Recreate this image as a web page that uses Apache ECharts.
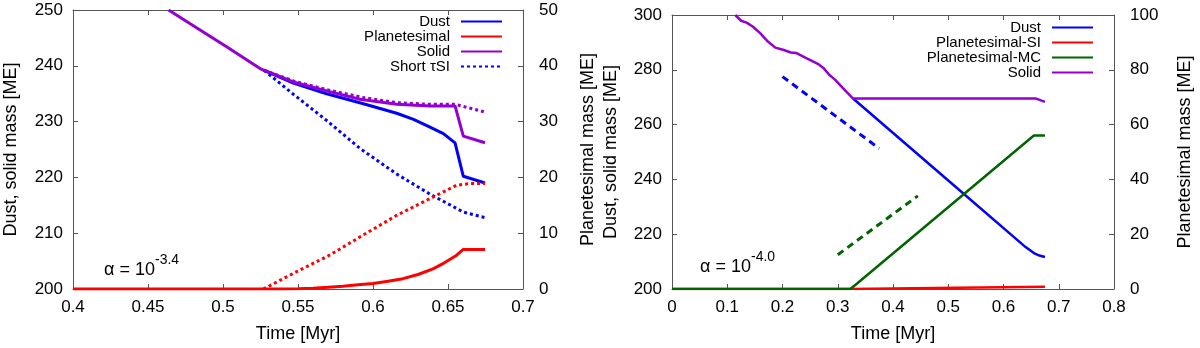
<!DOCTYPE html>
<html>
<head>
<meta charset="utf-8">
<script src="https://cdn.jsdelivr.net/npm/echarts@6/dist/echarts.min.js"></script>
<style>
  html, body { margin: 0; padding: 0; background: #fff; }
  #chart { width: 1200px; height: 348px; }
</style>
</head>
<body>
<div id="chart"></div>
<script>
// left panel, alpha = 10^-3.4  (x: Myr, y: ME)
let leftDust = [[0.5274, 239.2], [0.5469, 236.9], [0.5691, 235.0], [0.5936, 233.2], [0.6158, 231.5], [0.627, 230.4], [0.638, 229.0], [0.6469, 227.85], [0.6547, 226.2], [0.6602, 220.2], [0.6747, 219.0]];
let leftPlanetesimal = [[0.4, 0], [0.54, 0], [0.55, 0.05], [0.56, 0.15], [0.57, 0.3], [0.58, 0.5], [0.59, 0.75], [0.6, 1.0], [0.61, 1.4], [0.62, 1.85], [0.63, 2.6], [0.64, 3.6], [0.647, 4.6], [0.655, 5.9], [0.6602, 7.1], [0.6747, 7.1]];
let leftSolid = [[0.4637, 250], [0.4913, 245.3], [0.5024, 243.4], [0.5247, 239.5], [0.5274, 239.2], [0.5469, 237.1], [0.5691, 235.5], [0.5913, 234.0], [0.6158, 233.1], [0.638, 232.8], [0.6547, 232.8], [0.6602, 227.4], [0.6747, 226.2]];
let leftDustShort = [[0.5274, 239.2], [0.5469, 234.9], [0.5691, 230.2], [0.5913, 225.2], [0.6158, 220.6], [0.638, 217.0], [0.6602, 213.8], [0.6747, 212.8]];
let leftPlanShort = [[0.5269, 0], [0.5491, 3.1], [0.5713, 6.1], [0.5936, 9.7], [0.6158, 13.2], [0.638, 16.2], [0.6558, 18.6], [0.6647, 18.9], [0.6747, 18.9]];
let leftSolidShort = [[0.5274, 239.2], [0.5469, 237.3], [0.5713, 235.6], [0.5936, 234.3], [0.6158, 233.4], [0.638, 233.1], [0.6547, 233.1], [0.6747, 231.7]];

// right panel, alpha = 10^-4.0
let rightDust = [[0.3277, 269.5], [0.5, 239.6], [0.64, 215.3], [0.655, 213.1], [0.665, 212.2], [0.675, 211.7]];
let rightPlanSI = [[0, 0], [0.32, 0], [0.675, 0.8]];
let rightPlanMC = [[0, 0], [0.3227, 0], [0.335, 2], [0.655, 56], [0.675, 56]];
let rightSolid = [[0.1145, 300], [0.125, 297.9], [0.135, 297.2], [0.146, 295.8], [0.16, 293.3], [0.1735, 290.3], [0.187, 288.1], [0.201, 287.3], [0.215, 286.3], [0.2255, 286.1], [0.243, 284.3], [0.264, 282.2], [0.274, 280.7], [0.2845, 278.2], [0.295, 276.4], [0.309, 273.4], [0.3277, 269.5], [0.659, 269.5], [0.675, 268.3]];
let rightDustSlope = [[0.2, 277.5], [0.375, 251.3]];
let rightMCSlope = [[0.3, 12.5], [0.445, 34]];

let legendLeft = ["Dust", "Planetesimal", "Solid", "Short τSI"];
let legendRight = ["Dust ", "Planetesimal-SI", "Planetesimal-MC", "Solid "];

const FONT = "'Liberation Sans', Arial, Helvetica, sans-serif";
const AXIS_COLOR = "#555";

function xAxis(grid, min, max, interval, top) {
  return {
    gridIndex: grid,
    type: "value",
    position: top ? "top" : "bottom",
    min: min,
    max: max,
    interval: interval,
    name: top ? "" : "Time [Myr]",
    nameLocation: "middle",
    nameGap: 36,
    nameMoveOverlap: false,
    nameTextStyle: { fontSize: 18, color: "#000", fontFamily: FONT },
    axisLine: { show: true, onZero: false, lineStyle: { color: AXIS_COLOR, width: 1 } },
    axisTick: { show: true, inside: true, length: 5, lineStyle: { color: AXIS_COLOR } },
    axisLabel: { show: !top, fontSize: 17, color: "#000", margin: 10, fontFamily: FONT },
    splitLine: { show: false },
  };
}

function yAxis(grid, min, max, interval, right, name, gap) {
  return {
    gridIndex: grid,
    type: "value",
    position: right ? "right" : "left",
    min: min,
    max: max,
    interval: interval,
    name: name,
    nameLocation: "middle",
    nameGap: gap,
    nameMoveOverlap: false,
    nameTextStyle: { fontSize: 18, color: "#000", fontFamily: FONT },
    axisLine: { show: true, onZero: false, lineStyle: { color: AXIS_COLOR, width: 1 } },
    axisTick: { show: true, inside: true, length: 5, lineStyle: { color: AXIS_COLOR } },
    axisLabel: { fontSize: 17, color: "#000", margin: right ? 16 : 10, fontFamily: FONT },
    splitLine: { show: false },
  };
}

function line(name, data, xi, yi, color, width, type, z) {
  return {
    name: name,
    type: "line",
    xAxisIndex: xi,
    yAxisIndex: yi,
    data: data,
    symbol: "none",
    showSymbol: false,
    clip: true,
    z: z,
    itemStyle: { color: color },
    lineStyle: { color: color, width: width, type: type, cap: "butt" },
    emphasis: { disabled: true },
  };
}

function legend(names, right, top) {
  return {
    data: names,
    orient: "vertical",
    align: "right",
    right: right,
    top: top,
    padding: 0,
    itemWidth: 41,
    itemHeight: 3,
    itemGap: 0,
    selectedMode: false,
    itemStyle: { opacity: 0 },
    formatter: (n) => n.trim(),
    textStyle: { fontSize: 15, lineHeight: 15, color: "#000", fontFamily: FONT, padding: [0, 6, 0, 0] },
  };
}

let chart = echarts.init(document.getElementById("chart"));
let option = {
  animation: false,
  backgroundColor: "#fff",
  grid: [
    { left: 73, top: 10, width: 450, height: 279 },
    { left: 672, top: 15, width: 442, height: 275 },
  ],
  xAxis: [
    xAxis(0, 0.4, 0.7, 0.05, false),
    xAxis(0, 0.4, 0.7, 0.05, true),
    xAxis(1, 0, 0.8, 0.1, false),
    xAxis(1, 0, 0.8, 0.1, true),
  ],
  yAxis: [
    yAxis(0, 200, 250, 10, false, "Dust, solid mass [ME]", 53),
    yAxis(0, 0, 50, 10, true, "Planetesimal mass [ME]", 56),
    yAxis(1, 200, 300, 20, false, "Dust, solid mass [ME]", 52),
    yAxis(1, 0, 100, 20, true, "Planetesimal mass [ME]", 62),
  ],
  legend: [legend(legendLeft, 697, 14), legend(legendRight, 106, 20)],
  series: [
    line("Dust", leftDust, 0, 0, "#0000ff", 3, "solid", 2),
    line("Planetesimal", leftPlanetesimal, 0, 1, "#ff0000", 3, "solid", 2),
    line("Solid", leftSolid, 0, 0, "#9400d3", 3, "solid", 3),
    line("Short τSI", leftDustShort, 0, 0, "#0000ff", 3, [3, 3], 4),
    line("Short planetesimal", leftPlanShort, 0, 1, "#ff0000", 3, [3, 3], 4),
    line("Short solid", leftSolidShort, 0, 0, "#9400d3", 3, [3, 3], 4),

    line("Dust ", rightDust, 2, 2, "#0000ff", 2.5, "solid", 2),
    line("Planetesimal-SI", rightPlanSI, 2, 3, "#ff0000", 2.5, "solid", 2),
    line("Planetesimal-MC", rightPlanMC, 2, 3, "#006400", 2.5, "solid", 3),
    line("Solid ", rightSolid, 2, 2, "#9400d3", 2.5, "solid", 3),
    line("Dust slope", rightDustSlope, 2, 2, "#0000ff", 3, [7, 5], 4),
    line("MC slope", rightMCSlope, 2, 3, "#006400", 3, [7, 5], 4),
  ],
  graphic: [
    { type: "text", x: 104, y: 270, style: { text: "α = 10", fontSize: 18, fontFamily: FONT, fill: "#000", verticalAlign: "middle" } },
    { type: "text", x: 155, y: 260, style: { text: "-3.4", fontSize: 14, fontFamily: FONT, fill: "#000", verticalAlign: "middle" } },
    { type: "text", x: 700, y: 267, style: { text: "α = 10", fontSize: 18, fontFamily: FONT, fill: "#000", verticalAlign: "middle" } },
    { type: "text", x: 751, y: 257, style: { text: "-4.0", fontSize: 14, fontFamily: FONT, fill: "#000", verticalAlign: "middle" } },
  ],
};
chart.setOption(option);
</script>
</body>
</html>
